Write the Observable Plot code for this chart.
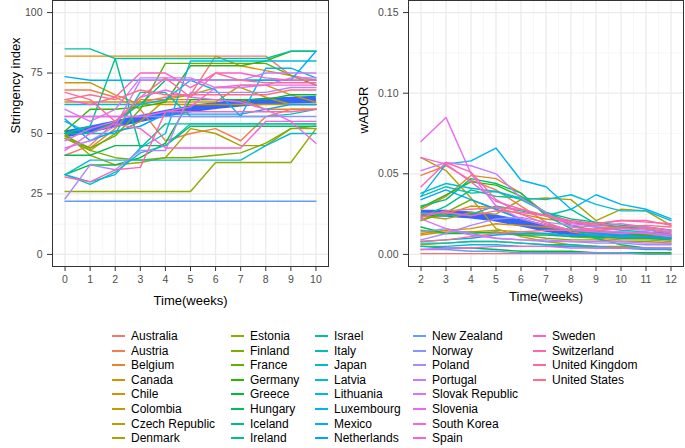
<!DOCTYPE html>
<html>
<head>
<meta charset="utf-8">
<script src="https://cdn.jsdelivr.net/npm/d3@7"></script>
<script src="https://cdn.jsdelivr.net/npm/@observablehq/plot@0.6"></script>
<style>
  html, body { margin: 0; padding: 0; background: #fff; }
  #root { position: relative; width: 685px; height: 448px; overflow: hidden; font-family: "Liberation Sans", Arial, sans-serif; }
  #left, #right { position: absolute; top: 0; }
  #left { left: 0; }
  #right { left: 340px; }
  .lg { position: absolute; font-size: 12px; color: #000; white-space: nowrap; line-height: 14px; }
  .lk { position: absolute; height: 2px; width: 13px; }
</style>
</head>
<body>
<div id="root">
  <div id="left"></div>
  <div id="right"></div>
  <div id="legend"></div>
</div>
<script>
const countries = ["Australia","Austria","Belgium","Canada","Chile","Colombia","Czech Republic","Denmark",
  "Estonia","Finland","France","Germany","Greece","Hungary","Iceland","Ireland",
  "Israel","Italy","Japan","Latvia","Lithuania","Luxembourg","Mexico","Netherlands",
  "New Zealand","Norway","Poland","Portugal","Slovak Republic","Slovenia","South Korea","Spain",
  "Sweden","Switzerland","United Kingdom","United States"];

const weeksLeft = [0,1,2,3,4,5,6,7,8,9,10];
const weeksRight = [2,3,4,5,6,7,8,9,10,11,12];

// Stringency index per country (weeks 0..10), in country order
const stringency = [
  [41,45,55,63,65,66,82,82,82,74,72],
  [68,68,65,60,47,50,52,47,57,60,60],
  [48,44,52,64,64,64,64,64,60,60,60],
  [82,82,82,82,82,82,82,78,76,74,70],
  [63,63,63,63,63,63,63,70,70,66,63],
  [71,71,66,62,62,62,62,62,62,62,62],
  [49,43,50,55,64,66,69,69,65,62,62],
  [50,41,37,38,40,52,50,45,45,52,52],
  [26,26,26,26,26,26,38,38,38,38,52],
  [48,43,40,39,40,40,41,42,46,52,53],
  [49,44,49,60,79,79,79,79,79,74,70],
  [51,60,60,61,63,78,78,78,80,84,84],
  [33,37,37,40,46,64,64,64,64,66,66],
  [41,41,45,45,45,53,53,53,53,53,53],
  [50,50,55,62,72,72,72,72,72,72,72],
  [50,53,81,44,54,54,54,54,54,54,54],
  [85,85,81,81,81,81,81,81,81,84,84],
  [55,50,50,67,67,57,57,57,57,58,60],
  [33,29,34,42,45,54,54,54,54,54,54],
  [33,39,39,39,39,39,39,39,45,50,50],
  [33,30,33,44,50,80,80,80,80,80,80],
  [62,62,62,62,64,72,68,57,77,77,73],
  [73.5,72,72,72,72,72,72,72,72,72,84],
  [56,47,51,53,58,58,58,58,60,62,62],
  [22,22,22,22,22,22,22,22,22,22,22],
  [57,57,57,57,57,57,57,57,57,57,57],
  [23,37,35,43,43,67,67,67,67,69,69],
  [44,47,53,72,72,72,72,72,75,75,75],
  [60,55,60,73,73,73,69,69,70,73,73],
  [47,52,55,65,68,65,64,63,60,55,46],
  [57,57,57,57,59,61,69,70,70,70,70],
  [43,50,54,52,44,44,44,44,55,55,55],
  [64,62,65,75,75,69,75,75,73,72,72],
  [32,30,35,36,59,59,59,59,59,59,60],
  [67,64,55,65,73,65,75,72,71,71,71],
  [64,66,64,68,66,66,66,66,66,68,68]
];

// wADGR per country (weeks 2..12), in country order
const wadgr = [
  [0.0005,0.0005,0.0005,0.0005,0.0005,0.0005,0.0005,0.0005,0.0005,0.0005,0.0005],
  [0.049,0.055,0.046,0.040,0.030,0.020,0.014,0.012,0.010,0.010,0.009],
  [0.028,0.036,0.049,0.047,0.038,0.025,0.018,0.015,0.013,0.012,0.011],
  [0.013,0.015,0.016,0.019,0.018,0.017,0.015,0.014,0.013,0.013,0.012],
  [0.022,0.025,0.030,0.029,0.025,0.022,0.020,0.018,0.017,0.016,0.014],
  [0.012,0.014,0.014,0.015,0.014,0.013,0.011,0.010,0.009,0.009,0.008],
  [0.060,0.052,0.035,0.016,0.011,0.008,0.006,0.005,0.005,0.004,0.004],
  [0.024,0.022,0.026,0.025,0.034,0.035,0.034,0.021,0.028,0.027,0.018],
  [0.006,0.007,0.008,0.008,0.007,0.006,0.005,0.005,0.004,0.004,0.003],
  [0.015,0.013,0.014,0.013,0.012,0.010,0.009,0.009,0.008,0.008,0.007],
  [0.021,0.026,0.034,0.028,0.022,0.018,0.015,0.013,0.012,0.011,0.010],
  [0.029,0.037,0.045,0.043,0.036,0.026,0.018,0.014,0.013,0.012,0.010],
  [0.005,0.004,0.004,0.003,0.002,0.002,0.002,0.001,0.001,0.001,0.001],
  [0.017,0.013,0.013,0.014,0.012,0.012,0.011,0.011,0.010,0.010,0.009],
  [0.030,0.034,0.047,0.044,0.038,0.024,0.016,0.010,0.006,0.004,0.003],
  [0.023,0.030,0.040,0.036,0.035,0.026,0.022,0.020,0.018,0.017,0.015],
  [0.026,0.024,0.025,0.030,0.027,0.024,0.028,0.019,0.017,0.016,0.011],
  [0.036,0.042,0.038,0.039,0.034,0.026,0.020,0.017,0.015,0.014,0.012],
  [0.007,0.007,0.008,0.008,0.007,0.006,0.006,0.005,0.004,0.004,0.003],
  [0.038,0.044,0.041,0.039,0.035,0.034,0.037,0.031,0.027,0.027,0.021],
  [0.005,0.005,0.006,0.006,0.005,0.005,0.005,0.004,0.004,0.003,0.003],
  [0.036,0.056,0.058,0.066,0.046,0.042,0.028,0.037,0.031,0.028,0.022],
  [0.008,0.009,0.010,0.012,0.013,0.013,0.012,0.012,0.011,0.011,0.010],
  [0.034,0.040,0.034,0.028,0.022,0.018,0.015,0.013,0.012,0.011,0.010],
  [0.003,0.003,0.002,0.002,0.001,0.001,0.001,0.001,0.001,0.000,0.000],
  [0.014,0.016,0.013,0.010,0.009,0.008,0.008,0.007,0.007,0.006,0.006],
  [0.009,0.013,0.018,0.022,0.023,0.020,0.018,0.017,0.016,0.015,0.014],
  [0.052,0.057,0.055,0.050,0.035,0.026,0.017,0.015,0.014,0.013,0.011],
  [0.022,0.016,0.012,0.010,0.009,0.009,0.008,0.008,0.008,0.007,0.007],
  [0.070,0.085,0.050,0.030,0.022,0.018,0.015,0.014,0.013,0.014,0.012],
  [0.003,0.004,0.004,0.005,0.005,0.005,0.004,0.004,0.004,0.004,0.004],
  [0.060,0.056,0.045,0.033,0.028,0.024,0.019,0.018,0.019,0.017,0.015],
  [0.025,0.026,0.024,0.027,0.026,0.024,0.020,0.019,0.021,0.020,0.019],
  [0.042,0.057,0.051,0.034,0.025,0.019,0.015,0.015,0.016,0.016,0.013],
  [0.023,0.027,0.028,0.029,0.028,0.024,0.021,0.019,0.021,0.021,0.018],
  [0.008,0.009,0.011,0.013,0.014,0.015,0.015,0.016,0.017,0.018,0.017]
];

// Thick blue trend lines
const trendLeft = [49.8,51.8,54.0,56.2,58.3,60.2,61.6,62.6,63.3,63.8,64.2];
const trendRight = [0.0255,0.0255,0.0245,0.0225,0.0195,0.0162,0.0135,0.0125,0.0120,0.0118,0.0115];

const ticksLeftY = [0,25,50,75,100];
const ticksRightY = [0,0.05,0.10,0.15];

// ggplot2 default hue palette (polarLUV)
function hclLuv(h, c, l) {
  const hr = h * Math.PI / 180;
  const U = c * Math.cos(hr), V = c * Math.sin(hr);
  const Xn = 95.047, Yn = 100, Zn = 108.883;
  const Y = Yn * (l > 8 ? Math.pow((l + 16) / 116, 3) : l / 903.3);
  const den = Xn + 15 * Yn + 3 * Zn;
  const un = 4 * Xn / den, vn = 9 * Yn / den;
  const up = U / (13 * l) + un, vp = V / (13 * l) + vn;
  const X = Y * 9 * up / (4 * vp);
  const Z = Y * (12 - 3 * up - 20 * vp) / (4 * vp);
  const x = X / 100, y = Y / 100, z = Z / 100;
  const r = 3.240479 * x - 1.537150 * y - 0.498535 * z;
  const g = -0.969256 * x + 1.875992 * y + 0.041556 * z;
  const b = 0.055648 * x - 0.204043 * y + 1.057311 * z;
  const gam = v => { v = v <= 0.0031308 ? 12.92 * v : 1.055 * Math.pow(v, 1 / 2.4) - 0.055; return Math.round(255 * Math.max(0, Math.min(1, v))); };
  return d3.rgb(gam(r), gam(g), gam(b)).formatHex();
}
const n = countries.length;
const palette = countries.map((_, i) => hclLuv(15 + 360 * i / n, 100, 65));

const leftRows = countries.flatMap((c, i) => weeksLeft.map((w, j) => ({country: c, week: w, value: stringency[i][j]})));
const rightRows = countries.flatMap((c, i) => weeksRight.map((w, j) => ({country: c, week: w, value: wadgr[i][j]})));
const trendLeftRows = weeksLeft.map((w, j) => ({week: w, value: trendLeft[j]}));
const trendRightRows = weeksRight.map((w, j) => ({week: w, value: trendRight[j]}));

function mids(a) { const r = []; for (let i = 0; i < a.length - 1; i++) r.push((a[i] + a[i + 1]) / 2); return r; }

function panel({rows, trend, xTicks, yTicks, xDomain, yDomain, width, height, marginLeft, marginRight, marginBottom, ylabel, ylabelDx, xlabelDy, yFormat}) {
  return Plot.plot({
    width, height, marginLeft, marginRight, marginTop: 0, marginBottom,
    style: {fontFamily: "'Liberation Sans', Arial, sans-serif", background: "white", overflow: "visible"},
    x: {domain: xDomain},
    y: {domain: yDomain},
    color: {domain: countries, range: palette},
    marks: [
      Plot.gridX(mids(xTicks), {stroke: "#f3f3f3", strokeOpacity: 1, strokeWidth: 0.7}),
      Plot.gridY(mids(yTicks), {stroke: "#f3f3f3", strokeOpacity: 1, strokeWidth: 0.7}),
      Plot.gridX(xTicks, {stroke: "#ebebeb", strokeOpacity: 1, strokeWidth: 1.3}),
      Plot.gridY(yTicks, {stroke: "#ebebeb", strokeOpacity: 1, strokeWidth: 1.3}),
      Plot.line(trend, {x: "week", y: "value", stroke: "#3366FF", strokeWidth: 7, strokeLinecap: "butt"}),
      Plot.line(rows, {x: "week", y: "value", z: "country", stroke: "country", strokeWidth: 1.4}),
      Plot.frame({stroke: "#333333", strokeWidth: 1}),
      Plot.axisX(xTicks, {tickSize: 5, tickPadding: 4, stroke: "#333333", fill: "#4d4d4d", fontSize: 10.5, label: null}),
      Plot.axisY(yTicks, {tickSize: 5, tickPadding: 5, stroke: "#333333", fill: "#4d4d4d", fontSize: 10.5, label: null, tickFormat: yFormat}),
      Plot.text(["Time(weeks)"], {frameAnchor: "bottom", dy: xlabelDy, fontSize: 13, fill: "#000"}),
      Plot.text([ylabel], {frameAnchor: "left", dx: ylabelDx, rotate: -90, fontSize: 13, fill: "#000"})
    ]
  });
}

document.getElementById("left").append(panel({
  rows: leftRows, trend: trendLeftRows, xTicks: weeksLeft, yTicks: ticksLeftY,
  xDomain: [-0.5, 10.5], yDomain: [-5, 105], width: 340, height: 312,
  marginLeft: 52, marginRight: 12, marginBottom: 46, ylabel: "Stringency index", ylabelDx: -37, xlabelDy: 38,
  yFormat: d => String(d)
}));

document.getElementById("right").append(panel({
  rows: rightRows, trend: trendRightRows, xTicks: weeksRight, yTicks: ticksRightY,
  xDomain: [1.5, 12.5], yDomain: [-0.0075, 0.1575], width: 345, height: 312,
  marginLeft: 68, marginRight: 2, marginBottom: 46, ylabel: "wADGR", ylabelDx: -45, xlabelDy: 34,
  yFormat: d3.format(".2f")
}));

// Legend (5 columns x 8 rows), colours from the same palette as the plots
const legend = document.getElementById("legend");
const colX = [112, 231, 315, 413, 533];
const rowY0 = 336, rowStep = 14.6;
countries.forEach((c, i) => {
  const col = Math.floor(i / 8), row = i % 8;
  const y = rowY0 + row * rowStep;
  const k = document.createElement("div");
  k.className = "lk";
  k.style.left = colX[col] + "px";
  k.style.top = Math.round(y - 1) + "px";
  k.style.background = palette[i];
  legend.append(k);
  const t = document.createElement("div");
  t.className = "lg";
  t.textContent = c;
  t.style.left = (colX[col] + 19) + "px";
  t.style.top = (y - 7) + "px";
  legend.append(t);
});
</script>
</body>
</html>
